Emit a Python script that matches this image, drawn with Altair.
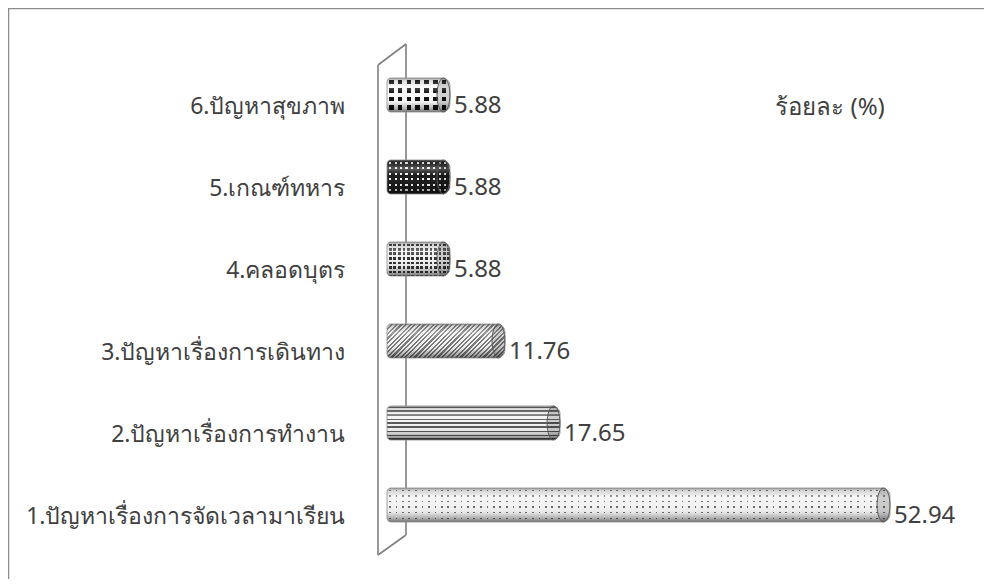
import altair as alt
import pandas as pd

# ---------------- data ----------------
CATEGORIES = [
    "1.ปัญหาเรื่องการจัดเวลามาเรียน",
    "2.ปัญหาเรื่องการทำงาน",
    "3.ปัญหาเรื่องการเดินทาง",
    "4.คลอดบุตร",
    "5.เกณฑ์ทหาร",
    "6.ปัญหาสุขภาพ",
]
VALUES = [52.94, 17.65, 11.76, 5.88, 5.88, 5.88]
VALUE_LABELS = ["52.94", "17.65", "11.76", "5.88", "5.88", "5.88"]
SERIES_NAME = "ร้อยละ (%)"

df = pd.DataFrame({"idx": list(range(len(CATEGORIES))), "category": CATEGORIES,
                   "value": VALUES, "label": VALUE_LABELS})

# ---------------- layout / style ----------------
CHART_W, CHART_H = 976, 571
PX_PER_UNIT = 9.35
ZERO_PX = 387
BAR_START_PX = 379
BAR_START_VALUE = (BAR_START_PX - ZERO_PX) / PX_PER_UNIT
BAR_H = 34
Y_RANGE = [46, 538]
FONT = "Noto Sans"
TEXT_COLOR = "#404040"

x_scale = alt.Scale(domain=[-ZERO_PX / PX_PER_UNIT, (CHART_W - ZERO_PX) / PX_PER_UNIT],
                    range=[0, CHART_W], nice=False, zero=False)
x_enc = alt.X("value:Q", scale=x_scale, axis=None)
x2_enc = alt.datum(BAR_START_VALUE)
y_enc = alt.Y(
    "category:N",
    sort=list(reversed(CATEGORIES)),
    scale=alt.Scale(range=Y_RANGE, paddingInner=0, paddingOuter=0),
    axis=alt.Axis(orient="left", offset=-337, domain=False, ticks=False, grid=False,
                  labelPadding=0, labelFont=FONT, labelFontSize=23, labelColor=TEXT_COLOR,
                  labelOffset=12, labelLimit=0, title=None, labelAlign="right",
                  labelBaseline="middle"),
    title=None,
)


def stripe_stops(length, period, on_len, on_color, off_color, phase=0.0):
    stops = []
    k = -1
    while True:
        a = k * period + phase
        if a >= length:
            break
        for s, e, c in [(a, a + on_len, on_color), (a + on_len, a + period, off_color)]:
            s2 = max(0.0, s / length)
            e2 = min(1.0, e / length)
            if e2 > s2:
                stops.append(alt.GradientStop(offset=round(s2, 5), color=c))
                stops.append(alt.GradientStop(offset=round(e2, 5), color=c))
        k += 1
    return stops


def lin(stops, x1=0.0, y1=0.0, x2=1.0, y2=0.0):
    return alt.LinearGradient(gradient="linear", stops=stops, x1=x1, y1=y1, x2=x2, y2=y2)


SHADE = lin([alt.GradientStop(offset=o, color=c) for o, c in [
    (0.0, "rgba(70,70,70,0.55)"), (0.08, "rgba(90,90,90,0.18)"),
    (0.25, "rgba(255,255,255,0.28)"), (0.45, "rgba(255,255,255,0)"),
    (0.72, "rgba(0,0,0,0.05)"), (0.9, "rgba(0,0,0,0.3)"), (1.0, "rgba(0,0,0,0.55)")]],
    0, 0, 0, 1)

PATTERNS = {
    0: dict(kind="dots", base="#6a6a6a", cover="#f3f3f3", rp=5.6, rg=1.6, cp=6.5, cg=1.6),
    1: dict(kind="hstripes", on="#5a5a5a", off="#f5f5f5", period=4.0, on_len=1.8),
    2: dict(kind="diag", on="#7a7a7a", off="#f5f5f5", period=4.6, on_len=2.3),
    3: dict(kind="dots", base="#333333", cover="#f0f0f0", rp=4.5, rg=2.6, cp=4.5, cg=2.6),
    4: dict(kind="dots", base="#f5f5f5", cover="#1c1c1c", rp=5.5, rg=2.4, cp=5.5, cg=2.4),
    5: dict(kind="dots", base="#111111", cover="#fafafa", rp=8.5, rg=4.6, cp=8.8, cg=4.6),
}

BAR_STYLE = dict(height=BAR_H, cornerRadiusTopLeft=4, cornerRadiusBottomLeft=4,
                 cornerRadiusTopRight=8, cornerRadiusBottomRight=8)

ELLIPSE = "M0,-1 A0.38,1 0 1,1 0,1 A0.38,1 0 1,1 0,-1 Z"

base = alt.Chart(df)
layers = []

# chart frame (top and left edges, the rest is cut off in the reference)
BORDER = pd.DataFrame({"x": [0, 0], "y": [0, 0], "x2": [CHART_W, 0], "y2": [0, CHART_H]})
layers.append(alt.Chart(BORDER).mark_rule(color="#8c8c8c", strokeWidth=2.5).encode(
    x=alt.X("x:Q", scale=None), y=alt.Y("y:Q", scale=None),
    x2="x2:Q", y2="y2:Q"))

# 3D axis wall
WALL = pd.DataFrame({"x": [370, 398, 370, 370], "y": [57, 36, 57, 547],
                     "x2": [370, 398, 398, 398], "y2": [547, 527, 36, 527]})
layers.append(alt.Chart(WALL).mark_rule(color="#7f7f7f", strokeWidth=1.6).encode(
    x=alt.X("x:Q", scale=None), y=alt.Y("y:Q", scale=None),
    x2="x2:Q", y2="y2:Q"))

for i, v in enumerate(VALUES):
    L = PX_PER_UNIT * v + (ZERO_PX - BAR_START_PX)
    p = PATTERNS[i]
    sub = base.transform_filter(alt.datum.idx == i)
    fills = []
    if p["kind"] == "dots":
        fills.append(p["base"])
        fills.append(lin(stripe_stops(BAR_H, p["rp"], p["rg"], "transparent", p["cover"],
                                      phase=1.5), 0, 0, 0, 1))
        fills.append(lin(stripe_stops(L, p["cp"], p["cg"], "transparent", p["cover"],
                                      phase=2.0), 0, 0, 1, 0))
    elif p["kind"] == "hstripes":
        fills.append(lin(stripe_stops(BAR_H, p["period"], p["on_len"], p["on"], p["off"],
                                      phase=0.5), 0, 0, 0, 1))
    else:
        r = BAR_H / L
        s = (L + BAR_H) / (L * (1 + r * r))
        fills.append(lin(stripe_stops(L + BAR_H, p["period"], p["on_len"], p["on"], p["off"]),
                         0, 0, s, s * r))
    for f in fills:
        layers.append(sub.mark_bar(color=f, **BAR_STYLE).encode(
            x=x_enc, x2=x2_enc, y=y_enc))
    layers.append(sub.mark_bar(color=SHADE, stroke="#8a8a8a", strokeWidth=0.8, **BAR_STYLE).encode(
        x=x_enc, x2=x2_enc, y=y_enc))
    layers.append(sub.mark_point(shape=ELLIPSE, size=BAR_H * BAR_H, filled=True,
                                 fill="rgba(0,0,0,0.16)", stroke="#5a5a5a", strokeWidth=1,
                                 opacity=1, xOffset=-6.5).encode(x=x_enc, y=y_enc))

# value labels
layers.append(base.mark_text(align="left", baseline="middle", dx=4, dy=11, fontSize=24,
                             font=FONT, color=TEXT_COLOR).encode(
    x=x_enc, y=y_enc, text="label:N"))

# series name
layers.append(alt.Chart(pd.DataFrame({"t": [SERIES_NAME]})).mark_text(
    align="center", baseline="middle", fontSize=24, font=FONT, color=TEXT_COLOR).encode(
    x=alt.value(822), y=alt.value(100), text="t:N"))

chart = alt.layer(*layers).properties(
    width=CHART_W, height=CHART_H, padding=0,
    autosize=alt.AutoSizeParams(type="none"), background="white",
).configure_view(stroke=None)

chart.save("out.html", embed_options={"renderer": "svg", "actions": False})
